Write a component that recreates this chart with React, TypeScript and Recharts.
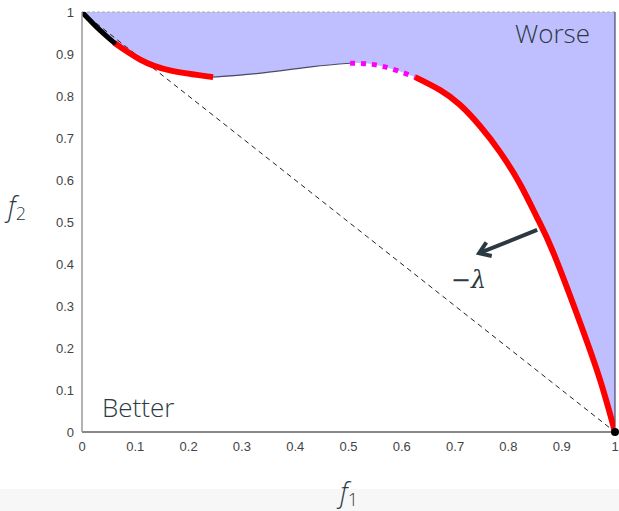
import React from 'react';
import {
  ComposedChart,
  Area,
  Line,
  XAxis,
  YAxis,
  ReferenceLine,
  ReferenceDot,
} from 'recharts';

// front pieces (f1 -> x, f2 -> y)
const blackF1 = [0, 0.03, 0.06];
const blackF2 = [1, 0.961, 0.927];
const redLeftF1 = [0.06, 0.11, 0.165, 0.246];
const redLeftF2 = [0.927, 0.886, 0.861, 0.845];
const thinF1 = [0.246, 0.34, 0.433, 0.503];
const thinF2 = [0.845, 0.855, 0.870, 0.878];
const magentaF1 = [0.503, 0.559, 0.625];
const magentaF2 = [0.878, 0.872, 0.845];
const redRightF1 = [0.625, 0.672, 0.709, 0.747, 0.784, 0.822, 0.854, 0.884, 0.934, 0.972, 1];
const redRightF2 = [0.845, 0.814, 0.779, 0.728, 0.667, 0.590, 0.510, 0.428, 0.262, 0.124, 0];

const ticks = [0, 0.1, 0.2, 0.3, 0.4, 0.5, 0.6, 0.7, 0.8, 0.9, 1];

// -lambda arrow: from the front towards better
const arrowFrom = { x: 0.854, y: 0.481 };
const arrowTo = { x: 0.745, y: 0.426 };

const pts = (xs: number[], ys: number[]) => xs.map((f1, i) => ({ f1, f2: ys[i] }));

const blackData = pts(blackF1, blackF2);
const redLeftData = pts(redLeftF1, redLeftF2);
const thinData = pts(thinF1, thinF2);
const magentaData = pts(magentaF1, magentaF2);
const redRightData = pts(redRightF1, redRightF2);

// whole front for the "worse" region fill
const frontData = [
  ...blackData,
  ...redLeftData.slice(1),
  ...thinData.slice(1),
  ...magentaData.slice(1),
  ...redRightData.slice(1),
];

const CURVE = 'natural';
const INK = '#2b3a42';
const tickStyle = { fill: '#444', fontSize: 13, fontFamily: '"Liberation Sans", Arial, sans-serif' };

const ArrowShape = (p: any) => {
  const { x1, y1, x2, y2 } = p;
  const a = Math.atan2(y2 - y1, x2 - x1);
  const L = 13;
  const w = 0.6;
  const ax = x2 - L * Math.cos(a - w);
  const ay = y2 - L * Math.sin(a - w);
  const bx = x2 - L * Math.cos(a + w);
  const by = y2 - L * Math.sin(a + w);
  return (
    <g>
      <line x1={x1} y1={y1} x2={x2} y2={y2} stroke={INK} strokeWidth={4} />
      <polyline
        points={`${ax},${ay} ${x2},${y2} ${bx},${by}`}
        fill="none"
        stroke={INK}
        strokeWidth={4}
        strokeLinejoin="miter"
      />
    </g>
  );
};

const textLabel = (text: React.ReactNode, anchor: 'start' | 'end', size: number, font: string) =>
  (props: any) => {
    const vb = props.viewBox || {};
    return (
      <text x={vb.x} y={vb.y} textAnchor={anchor} fill={INK} fontSize={size} fontFamily={font} fontWeight={300}>
        {text}
      </text>
    );
  };

const SANS = '"Open Sans", "Noto Sans", sans-serif';
const SERIF = '"DejaVu Serif", "Liberation Serif", serif';

export default function App() {
  return (
    <div style={{ position: 'relative', width: 619, height: 511, background: '#fff', overflow: 'hidden' }}>
      <style>{'body{margin:0}'}</style>
      <div style={{ position: 'absolute', left: 0, top: 489, width: 619, height: 22, background: '#f7f7f7' }} />
      <div style={{ position: 'absolute', left: 0, top: 0 }}>
        <ComposedChart width={619} height={489} data={frontData} margin={{ top: 12, right: 4, bottom: 0, left: 0 }}>
          <XAxis
            type="number"
            dataKey="f1"
            domain={[0, 1]}
            ticks={ticks}
            tickFormatter={(v) => String(v)}
            tickLine={false}
            tickMargin={4}
            height={57}
            axisLine={{ stroke: '#888', strokeWidth: 2 }}
            tick={tickStyle}
            allowDataOverflow
          />
          <YAxis
            type="number"
            domain={[0, 1]}
            ticks={ticks}
            tickFormatter={(v) => String(v)}
            tickLine={false}
            width={82}
            axisLine={{ stroke: '#999', strokeWidth: 1.5 }}
            tick={tickStyle}
            allowDataOverflow
          />
          <Area
            type={CURVE}
            dataKey={(d: any) => [d.f2, 1]}
            stroke="none"
            fill="#bfbfff"
            fillOpacity={1}
            isAnimationActive={false}
          />
          <ReferenceLine y={1} stroke="#aaa" strokeDasharray="3 2" strokeWidth={1} />
          <ReferenceLine x={1} stroke="#2a2a55" strokeWidth={1} />
          <ReferenceLine
            segment={[{ x: 0, y: 1 }, { x: 1, y: 0 }]}
            stroke="#222"
            strokeDasharray="5 4"
            strokeWidth={1}
            ifOverflow="visible"
          />
          <Line data={thinData} dataKey="f2" type={CURVE} stroke="#4a4a66" strokeWidth={1.2} dot={false} isAnimationActive={false} />
          <Line data={magentaData} dataKey="f2" type={CURVE} stroke="#ff00ff" strokeWidth={5} strokeDasharray="5 6" dot={false} isAnimationActive={false} />
          <Line data={redLeftData} dataKey="f2" type={CURVE} stroke="#ff0000" strokeWidth={6} dot={false} isAnimationActive={false} />
          <Line data={redRightData} dataKey="f2" type={CURVE} stroke="#ff0000" strokeWidth={6} dot={false} isAnimationActive={false} />
          <Line data={blackData} dataKey="f2" type={CURVE} stroke="#000" strokeWidth={5} strokeLinecap="round" dot={false} isAnimationActive={false} />
          <ReferenceDot x={1} y={0} r={4} fill="#000" stroke="none" ifOverflow="visible" />
          <ReferenceLine segment={[arrowFrom, arrowTo]} shape={ArrowShape} ifOverflow="visible" />
          <ReferenceDot x={0.953} y={0.926} r={0} fill="none" stroke="none" label={{ content: textLabel('Worse', 'end', 26, SANS) }} />
          <ReferenceDot x={0.0375} y={0.036} r={0} fill="none" stroke="none" label={{ content: textLabel('Better', 'start', 26, SANS) }} />
          <ReferenceDot
            x={0.692}
            y={0.343}
            r={0}
            fill="none"
            stroke="none"
            label={{ content: textLabel(<><tspan fontStyle="normal">−</tspan><tspan fontStyle="italic">λ</tspan></>, 'start', 24, SERIF) }}
          />
        </ComposedChart>
      </div>
      <div style={{ position: 'absolute', left: 340, top: 478, fontFamily: SANS, fontWeight: 300, fontSize: 27, fontStyle: 'italic', color: INK, lineHeight: 1 }}>
        f<sub style={{ fontSize: 18, fontStyle: 'normal', verticalAlign: '-4px' }}>1</sub>
      </div>
      <div style={{ position: 'absolute', left: 8, top: 192, fontFamily: SANS, fontWeight: 300, fontSize: 27, fontStyle: 'italic', color: INK, lineHeight: 1 }}>
        f<sub style={{ fontSize: 18, fontStyle: 'normal', verticalAlign: '-4px' }}>2</sub>
      </div>
    </div>
  );
}
